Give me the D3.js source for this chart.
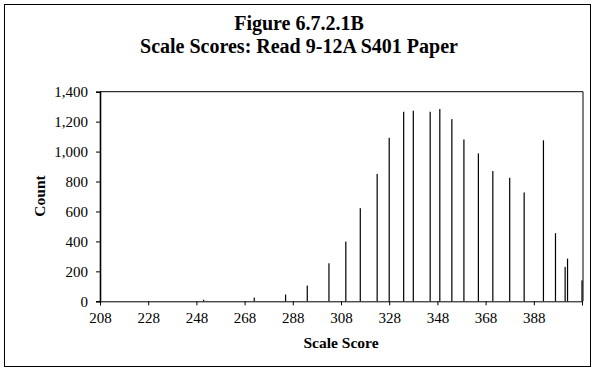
<!DOCTYPE html>
<html><head><meta charset="utf-8">
<script src="https://cdn.jsdelivr.net/npm/d3@7"></script>
<style>
body{margin:0;background:#fff;}
text{font-family:"Liberation Serif","Times New Roman",serif;fill:#000;}
</style></head>
<body><svg id="c" width="595" height="371"></svg>
<script>
const titleLines = ["Figure 6.7.2.1B", "Scale Scores: Read 9-12A S401 Paper"];
const xLabel = "Scale Score";
const yLabel = "Count";
const scores = [251, 272, 285, 294, 303, 310, 316, 323, 328, 334, 338, 345, 349, 354, 359, 365, 371, 378, 384, 392, 397, 401, 402, 408];
const counts = [10, 25, 45, 105, 254, 399, 622, 851, 1092, 1266, 1273, 1266, 1284, 1217, 1081, 988, 870, 825, 727, 1075, 455, 230, 285, 140];
const xTicks = [208, 228, 248, 268, 288, 308, 328, 348, 368, 388, 408];
const xTickLabels = ["208", "228", "248", "268", "288", "308", "328", "348", "368", "388", ""];
const yTicks = [0, 200, 400, 600, 800, 1000, 1200, 1400];

const svg = d3.select("#c");
svg.append("rect").attr("x", 4.5).attr("y", 4.5).attr("width", 586).attr("height", 362)
  .attr("fill", "#fff").attr("stroke", "#000").attr("stroke-width", 1);

const L = 100, R = 582, T = 91.7, B = 301.3;
const x = d3.scaleLinear().domain([208, 408]).range([L, R]);
const y = d3.scaleLinear().domain([0, 1400]).range([B, T]);

// plot frame
svg.append("path").attr("d", `M${L},${T}H${R + 1}V${B}`).attr("fill", "none").attr("stroke", "#000");

// bars
const data = scores.map((s, i) => ({s, c: counts[i]}));
svg.append("g").selectAll("rect").data(data).join("rect")
  .attr("x", d => x(d.s) - 0.6).attr("width", 1.2)
  .attr("y", d => y(d.c)).attr("height", d => B - y(d.c))
  .attr("fill", "#000");

// axes
const xa = svg.append("g").attr("transform", `translate(0,${B})`)
  .call(d3.axisBottom(x).tickValues(xTicks).tickSize(4).tickFormat((d, i) => xTickLabels[i]));
const ya = svg.append("g").attr("transform", `translate(${L},0)`)
  .call(d3.axisLeft(y).tickValues(yTicks).tickSize(4).tickFormat(d3.format(",")));
[xa, ya].forEach(a => {
  a.select(".domain").attr("stroke", "#000");
  a.selectAll(".tick line").attr("stroke", "#000");
  a.selectAll("text").style("font-family", '"Liberation Serif",serif').style("font-size", "15px").attr("fill", "#000");
});
ya.select(".domain").attr("stroke-width", 1.6);
xa.selectAll("text").attr("y", 9).attr("dy", "0.85em");
ya.selectAll("text").attr("x", -12);

// titles
svg.append("g").selectAll("text").data(titleLines).join("text")
  .attr("x", 299).attr("y", (d, i) => 30 + i * 22.5)
  .attr("text-anchor", "middle").style("font-weight", "bold").style("font-size", "20px")
  .text(d => d);
svg.append("text").attr("x", 341).attr("y", 348).attr("text-anchor", "middle")
  .style("font-weight", "bold").style("font-size", "15.5px").text(xLabel);
svg.append("text").attr("transform", "translate(45,196) rotate(-90)").attr("text-anchor", "middle")
  .style("font-weight", "bold").style("font-size", "15.5px").text(yLabel);
</script></body></html>
